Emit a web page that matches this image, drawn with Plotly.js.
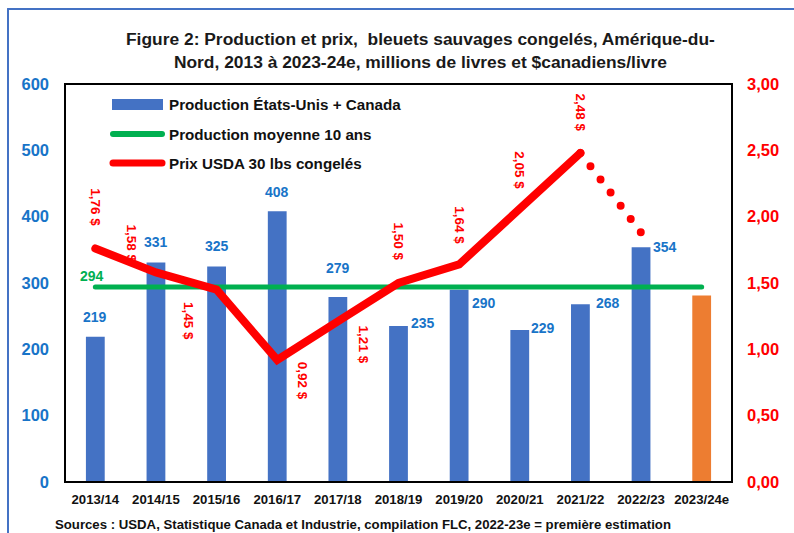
<!DOCTYPE html>
<html>
<head>
<meta charset="utf-8">
<script src="https://cdn.plot.ly/plotly-3.0.1.min.js"></script>
<style>
html,body{margin:0;padding:0;background:#fff;}
#chart{width:794px;height:533px;}
.scatterlayer .js-line{stroke-linecap:round;}
.shapelayer path{stroke-linecap:round;}
</style>
</head>
<body>
<div id="chart"></div>
<script>
// ---- data ----
const categories = ["2013/14","2014/15","2015/16","2016/17","2017/18","2018/19","2019/20","2020/21","2021/22","2022/23","2023/24e"];
const production = [219, 331, 325, 408, 279, 235, 290, 229, 268, 354, 281];
const productionLabels = ["219","331","325","408","279","235","290","229","268","354",""];
const average10 = [294, 294, 294, 294, 294, 294, 294, 294, 294, 294, 294];
const priceCategories = ["2013/14","2014/15","2015/16","2016/17","2017/18","2018/19","2019/20","2020/21","2021/22"];
const price = [1.76, 1.58, 1.45, 0.92, 1.21, 1.50, 1.64, 2.05, 2.48];
const priceDottedCategories = ["2021/22","2022/23"];
const priceDotted = [2.48, 1.88];
const leftTicks = [0, 100, 200, 300, 400, 500, 600];
const rightTicks = [0, 0.5, 1, 1.5, 2, 2.5, 3];

const FONT = "'Liberation Sans Narrow', 'Arial Narrow', 'Liberation Sans', Arial, sans-serif";
const BLUE_TXT = "#1874C8";
const RED = "#FF0000";
const GREEN = "#00B050";

const barColors = production.map((v,i)=> i === production.length-1 ? "#ED7D31" : "#4472C4");

const traces = [
  {type:"bar", x:categories, y:production, marker:{color:barColors}, width:0.31, showlegend:false, hoverinfo:"skip"},
  {type:"scatter", mode:"lines", x:categories, y:average10, line:{color:GREEN, width:5}, showlegend:false, hoverinfo:"skip"},
  {type:"scatter", mode:"lines", x:priceCategories, y:price, yaxis:"y2", line:{color:RED, width:8}, showlegend:false, hoverinfo:"skip"},
  {type:"scatter", mode:"lines", x:priceDottedCategories, y:priceDotted, yaxis:"y2", line:{color:RED, width:8, dash:"0px,16.6px"}, showlegend:false, hoverinfo:"skip"}
];

// label offsets (styling, pixels)
const barShift = [[0,20],[0,20],[0,20],[0,19],[0,29],[24,3],[25,-13],[23,2],[28,1],[24,0],[0,0]];
const priceShift = [[0,41],[-24,29],[-28,-31],[25,-21],[26,-23],[0,42],[0,39],[0,40],[0,40]];

const annotations = [];
production.forEach((v,i)=>{
  if(!productionLabels[i]) return;
  annotations.push({x:categories[i], y:v, xref:"x", yref:"y", text:productionLabels[i], showarrow:false,
    xshift:barShift[i][0], yshift:barShift[i][1], font:{family:FONT, size:14, color:BLUE_TXT, weight:"bold"}});
});
price.forEach((v,i)=>{
  annotations.push({x:priceCategories[i], y:v, xref:"x", yref:"y2", text:v.toFixed(2).replace(".",",")+" $", showarrow:false, textangle:90,
    xshift:priceShift[i][0], yshift:priceShift[i][1], font:{family:FONT, size:13.5, color:RED, weight:"bold"}});
});
annotations.push({x:categories[0], y:average10[0], xref:"x", yref:"y", text:String(average10[0]), showarrow:false,
  xshift:-3, yshift:11, font:{family:FONT, size:14, color:GREEN, weight:"bold"}});

// title, source
annotations.push({xref:"paper", yref:"paper", x:(420-65)/667, y:(482-51)/398, xanchor:"center", yanchor:"middle",
  text:"Figure 2: Production et prix,\u00a0 bleuets sauvages congelés, Amérique-du-<br>Nord, 2013 à 2023-24e, millions de livres et $canadiens/livre",
  showarrow:false, font:{family:FONT, size:17.4, color:"#1a1a1a", weight:"bold"}});
annotations.push({xref:"paper", yref:"paper", x:(53-65)/667, y:(482-524)/398, xanchor:"left", yanchor:"middle",
  text:"Sources : USDA, Statistique Canada et Industrie, compilation FLC, 2022-23e = première estimation",
  showarrow:false, font:{family:FONT, size:13.2, color:"#111", weight:"bold"}});

// custom legend
const legendItems = [
  {text:"Production États-Unis + Canada", y:104},
  {text:"Production moyenne 10 ans", y:134},
  {text:"Prix USDA 30 lbs congelés", y:163}
];
legendItems.forEach(it=>{
  annotations.push({xref:"paper", yref:"paper", x:(167-65)/667, y:(482-it.y)/398, xanchor:"left", yanchor:"middle",
    text:it.text, showarrow:false, font:{family:FONT, size:15.2, color:"#111", weight:"bold"}});
});
const px = v => (v-65)/667, py = v => (482-v)/398;
const shapes = [
  {type:"rect", xref:"paper", yref:"paper", x0:px(112), x1:px(163), y0:py(99), y1:py(110), fillcolor:"#4472C4", line:{width:0}},
  {type:"line", xref:"paper", yref:"paper", x0:px(113), x1:px(162), y0:py(134), y1:py(134), line:{color:GREEN, width:6}},
  {type:"line", xref:"paper", yref:"paper", x0:px(113), x1:px(162), y0:py(163), y1:py(163), line:{color:RED, width:7}},
  // plot frame
  {type:"rect", xref:"paper", yref:"paper", x0:0, x1:1, y0:0, y1:1, line:{color:"#000", width:2}, layer:"above"},
  // outer blue frame
  {type:"line", xref:"paper", yref:"paper", x0:px(8), x1:px(8), y0:py(9), y1:py(540), line:{color:"#4472C4", width:2}},
  {type:"line", xref:"paper", yref:"paper", x0:px(8), x1:px(800), y0:py(9), y1:py(9), line:{color:"#4472C4", width:2}}
];

const layout = {
  width:794, height:533,
  margin:{l:65, r:62, t:84, b:51, pad:0},
  paper_bgcolor:"#fff", plot_bgcolor:"#fff",
  separators:", ",
  showlegend:false,
  xaxis:{type:"category", categoryorder:"array", categoryarray:categories, range:[-0.5,10.5],
    showgrid:false, zeroline:false, showline:false, ticks:"", ticklabelstandoff:8,
    tickfont:{family:FONT, size:13.2, color:"#111", weight:"bold"}, fixedrange:true},
  yaxis:{range:[0,600], tickvals:leftTicks, showgrid:false, zeroline:false, showline:false, ticks:"",
    ticklabelstandoff:15, tickfont:{family:FONT, size:16.5, color:BLUE_TXT, weight:"bold"}},
  yaxis2:{range:[0,3], tickvals:rightTicks, tickformat:".2f", ticksuffix:" $", overlaying:"y", side:"right",
    showgrid:false, zeroline:false, showline:false, ticks:"", ticklabelstandoff:14,
    tickfont:{family:FONT, size:16.5, color:RED, weight:"bold"}},
  annotations:annotations,
  shapes:shapes
};

Plotly.newPlot("chart", traces, layout, {staticPlot:true, displayModeBar:false});
</script>
</body>
</html>
